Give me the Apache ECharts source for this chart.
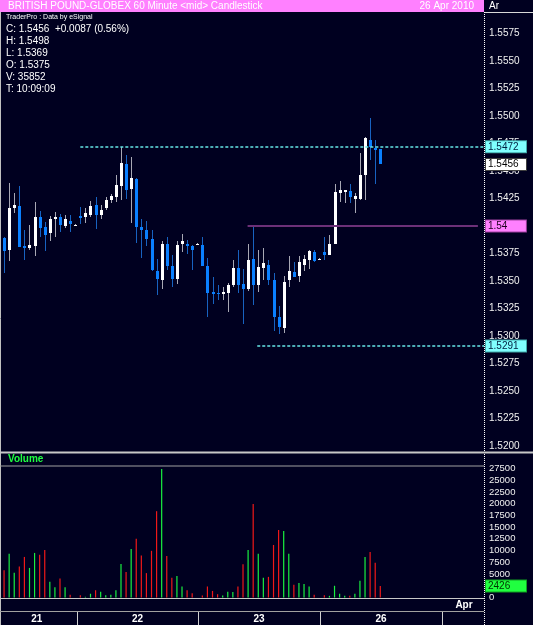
<!DOCTYPE html>
<html>
<head>
<meta charset="utf-8">
<title>BRITISH POUND-GLOBEX 60 Minute</title>
<script src="https://cdn.jsdelivr.net/npm/echarts@6.0.0/dist/echarts.min.js"></script>
<style>
	html, body { margin: 0; padding: 0; background: #000020; }
	#chart { width: 533px; height: 625px; }
</style>
</head>
<body>
<div id="chart"></div>
<script>
// hourly bars, 21 - 26 Apr 2010
var opens  = [1.5389, 1.5378, 1.5416, 1.5418, 1.5382, 1.5380, 1.5382, 1.5408, 1.5399, 1.5394,
	1.5406, 1.5408, 1.5400, 1.5405, 1.5401, 1.5409, 1.5408, 1.5410, 1.5419, 1.5410,
	1.5416, 1.5424, 1.5426, 1.5436, 1.5456, 1.5434, 1.5443, 1.5399, 1.5396, 1.5388,
	1.5359, 1.5351, 1.5384, 1.5364, 1.5352, 1.5384, 1.5384, 1.5382, 1.5384, 1.5383,
	1.5364, 1.5340, 1.5339, 1.5338, 1.5339, 1.5346, 1.5362, 1.5347, 1.5343, 1.5370,
	1.5346, 1.5362, 1.5365, 1.5351, 1.5317, 1.5307, 1.5351, 1.5358, 1.5355, 1.5365,
	1.5369, 1.5376, 1.5370, 1.5376, 1.5374, 1.5384, 1.5430, 1.5431, 1.5432, 1.5425,
	1.5425, 1.5446, 1.5478, 1.5471, 1.5470];
var closes = [1.5377, 1.5416, 1.5419, 1.5381, 1.5380, 1.5383, 1.5408, 1.5398, 1.5392, 1.5406,
	1.5408, 1.5401, 1.5406, 1.5402, 1.5401, 1.5407, 1.5412, 1.5418, 1.5410, 1.5415,
	1.5424, 1.5427, 1.5437, 1.5457, 1.5433, 1.5444, 1.5399, 1.5396, 1.5388, 1.5360,
	1.5352, 1.5384, 1.5364, 1.5352, 1.5383, 1.5386, 1.5382, 1.5378, 1.5384, 1.5364,
	1.5339, 1.5338, 1.5338, 1.5340, 1.5346, 1.5362, 1.5346, 1.5343, 1.5369, 1.5346,
	1.5363, 1.5366, 1.5351, 1.5317, 1.5308, 1.5349, 1.5359, 1.5354, 1.5367, 1.5370,
	1.5377, 1.5368, 1.5370, 1.5374, 1.5384, 1.5431, 1.5433, 1.5433, 1.5426, 1.5427,
	1.5446, 1.5480, 1.5472, 1.5469, 1.5456];
var lows   = [1.5357, 1.5368, 1.5412, 1.5381, 1.5369, 1.5378, 1.5373, 1.5390, 1.5377, 1.5386,
	1.5390, 1.5395, 1.5398, 1.5395, 1.5401, 1.5402, 1.5403, 1.5408, 1.5397, 1.5406,
	1.5415, 1.5421, 1.5422, 1.5424, 1.5425, 1.5403, 1.5385, 1.5371, 1.5382, 1.5359,
	1.5337, 1.5343, 1.5360, 1.5345, 1.5347, 1.5376, 1.5375, 1.5360, 1.5384, 1.5364,
	1.5317, 1.5329, 1.5333, 1.5333, 1.5322, 1.5345, 1.5339, 1.5311, 1.5341, 1.5328,
	1.5340, 1.5351, 1.5346, 1.5305, 1.5302, 1.5303, 1.5345, 1.5354, 1.5349, 1.5359,
	1.5361, 1.5367, 1.5370, 1.5369, 1.5374, 1.5384, 1.5422, 1.5421, 1.5421, 1.5412,
	1.5424, 1.5424, 1.5460, 1.5438, 1.5456];
var highs  = [1.5390, 1.5439, 1.5430, 1.5436, 1.5396, 1.5401, 1.5422, 1.5414, 1.5404, 1.5409,
	1.5413, 1.5411, 1.5410, 1.5410, 1.5402, 1.5417, 1.5416, 1.5423, 1.5426, 1.5419,
	1.5426, 1.5429, 1.5446, 1.5472, 1.5465, 1.5463, 1.5444, 1.5406, 1.5405, 1.5396,
	1.5370, 1.5386, 1.5390, 1.5374, 1.5386, 1.5393, 1.5387, 1.5383, 1.5385, 1.5390,
	1.5371, 1.5354, 1.5346, 1.5345, 1.5348, 1.5369, 1.5378, 1.5361, 1.5384, 1.5400,
	1.5378, 1.5380, 1.5369, 1.5357, 1.5327, 1.5355, 1.5373, 1.5367, 1.5373, 1.5374,
	1.5378, 1.5378, 1.5371, 1.5390, 1.5392, 1.5438, 1.5441, 1.5433, 1.5438, 1.5430,
	1.5466, 1.5481, 1.5498, 1.5478, 1.5470];
var volumes = [5800, 9300, 5300, 6600, 8650, 6300, 9500, 9100, 10150, 3350,
	2200, 4050, 2200, 570, 0, 500, 150, 800, 1550, 1200,
	500, 570, 1550, 7150, 5450, 10350, 12500, 8950, 5200, 9950,
	18400, 27400, 8870, 4200, 4600, 2350, 1550, 900, 0, 430,
	2350, 1400, 700, 430, 1200, 1150, 2350, 7100, 10150, 19950,
	9300, 4200, 4400, 11200, 14400, 14200, 9300, 2700, 3100, 2900,
	2350, 570, 0, 500, 350, 2500, 800, 350, 350, 800,
	3550, 8650, 9700, 7400, 2426];

// drawn levels
var resistance = 1.5472, resistanceFrom = 15;
var pivot = 1.54, pivotFrom = 47.9;
var support = 1.5291, supportFrom = 49.8;

// date strip
var dayLabels = ['21', '22', '23', '26'];
var dayBreaks = [14.35, 38.15, 62.15, 86.15];
var monthLabel = 'Apr';

var infoLines = ['C: 1.5456  +0.0087 (0.56%)', 'H: 1.5498', 'L: 1.5369', 'O: 1.5375', 'V: 35852', 'T: 10:09:09'];

var FONT = "'Liberation Sans', Arial, sans-serif";
var X_MIN = -0.8, X_MAX = 94.4;
var UP_BODY = '#ffffff', UP_WICK = '#a8a8b4', DOWN_BODY = '#0a80ff', DOWN_WICK = '#1862c0';

var candles = [], vols = [];
for (var i = 0; i < opens.length; i++) {
	candles.push([i, opens[i], closes[i], lows[i], highs[i]]);
	vols.push([i, volumes[i]]);
}
var lastClose = closes[closes.length - 1];
var lastVolume = volumes[volumes.length - 1];

var dayLabelPos = [];
for (var d = 0; d < dayLabels.length; d++) {
	var from = d === 0 ? -1.5 : dayBreaks[d - 1];
	dayLabelPos.push({ value: [(from + dayBreaks[d]) / 2, 0], name: dayLabels[d] });
}

function renderCandle(params, api) {
	var idx = api.value(0);
	var o = api.value(1), c = api.value(2), lo = api.value(3), hi = api.value(4);
	var pO = api.coord([idx, o]), pC = api.coord([idx, c]);
	var yL = Math.round(api.coord([idx, lo])[1]), yH = Math.round(api.coord([idx, hi])[1]);
	var cx = Math.round(pO[0]);
	var up = c >= o;
	var top = Math.round(Math.min(pO[1], pC[1])), bot = Math.round(Math.max(pO[1], pC[1]));
	if (bot - top < 1) bot = top + 1;
	return {
		type: 'group',
		children: [
			{ type: 'rect', shape: { x: cx, y: yH, width: 1, height: Math.max(1, yL - yH) }, style: { fill: up ? UP_WICK : DOWN_WICK } },
			{ type: 'rect', shape: { x: cx - 1, y: top, width: 3, height: bot - top }, style: { fill: up ? UP_BODY : DOWN_BODY } }
		]
	};
}

function renderBreak(params, api) {
	var p = api.coord([api.value(0), 0]);
	var x = Math.round(p[0]) + 0.5;
	return { type: 'line', shape: { x1: x, y1: 612, x2: x, y2: 625 }, style: { stroke: '#d0d0d0', lineWidth: 1 } };
}

function renderDayLabel(params, api) {
	var p = api.coord([api.value(0), api.value(1)]);
	return {
		type: 'text', x: p[0], y: 0,
		style: { text: dayLabelPos[params.dataIndex].name, x: 0, y: 619, align: 'center', verticalAlign: 'middle', fill: '#ffffff', font: 'bold 10px ' + FONT }
	};
}

function levelLabel(text, bg, border, fg, dist) {
	return {
		show: true, position: 'end', distance: dist || 2, formatter: text,
		backgroundColor: bg, borderColor: border, borderWidth: 1,
		color: fg, fontFamily: FONT, fontSize: 10, width: 36, height: 10,
		padding: [1, 2, 0, 2], lineHeight: 10
	};
}

// a level box with no visible line, parked on the axis edge
function edgeBox(value, bg, border, fg) {
	return [
		{ coord: [94.3, value], lineStyle: { color: 'rgba(0,0,0,0)', width: 1 }, label: levelLabel(String(value), bg, border, fg) },
		{ coord: [X_MAX, value] }
	];
}

var chart = echarts.init(document.getElementById('chart'), null, { renderer: 'canvas' });

var graphics = [
	// header
	{ type: 'rect', shape: { x: 0, y: 0, width: 484, height: 12 }, style: { fill: '#ff80ff' } },
	{ type: 'text', style: { text: 'BRITISH POUND-GLOBEX 60 Minute <mid> Candlestick', x: 8, y: 6, verticalAlign: 'middle', fill: '#ffffff', font: '10px ' + FONT } },
	{ type: 'text', style: { text: '26 Apr 2010', x: 474, y: 6, align: 'right', verticalAlign: 'middle', fill: '#ffffff', font: '10px ' + FONT } },
	{ type: 'text', style: { text: 'Ar', x: 489, y: 6, verticalAlign: 'middle', fill: '#ffffff', font: '10px ' + FONT } },
	{ type: 'line', shape: { x1: 484, y1: 12.5, x2: 533, y2: 12.5 }, style: { stroke: '#d8d8d8', lineWidth: 1 } },
	{ type: 'text', style: { text: 'TraderPro : Data by eSignal', x: 6, y: 17, verticalAlign: 'middle', fill: '#ffffff', font: '7px ' + FONT } },
	// panel frames
	{ type: 'line', shape: { x1: 0.5, y1: 12, x2: 0.5, y2: 625 }, style: { stroke: '#c0c0c0', lineWidth: 1 } },
	{ type: 'line', shape: { x1: 484.5, y1: 12, x2: 484.5, y2: 625 }, style: { stroke: '#ffffff', lineWidth: 1, lineDash: [1, 1] } },
	{ type: 'line', shape: { x1: 0, y1: 452.5, x2: 533, y2: 452.5 }, style: { stroke: '#c8c8c8', lineWidth: 2 } },
	{ type: 'line', shape: { x1: 0, y1: 466, x2: 484, y2: 466 }, style: { stroke: '#a0a0a0', lineWidth: 1 } },
	{ type: 'line', shape: { x1: 0, y1: 598.5, x2: 484, y2: 598.5 }, style: { stroke: '#c8c8c8', lineWidth: 1 } },
	{ type: 'line', shape: { x1: 0, y1: 611.5, x2: 484, y2: 611.5 }, style: { stroke: '#a0a0a0', lineWidth: 1 } },
	{ type: 'text', style: { text: 'Volume', x: 8, y: 459.5, verticalAlign: 'middle', fill: '#20ff40', font: 'bold 10px ' + FONT } },
	{ type: 'text', style: { text: monthLabel, x: 464, y: 605, align: 'center', verticalAlign: 'middle', fill: '#ffffff', font: 'bold 10px ' + FONT } }
];
for (var k = 0; k < infoLines.length; k++) {
	graphics.push({ type: 'text', style: { text: infoLines[k], x: 6, y: 29 + k * 12, verticalAlign: 'middle', fill: '#ffffff', font: '10px ' + FONT } });
}

var hiddenX = function(gridIndex) {
	return { type: 'value', gridIndex: gridIndex, min: X_MIN, max: X_MAX, show: false };
};

chart.setOption({
	backgroundColor: '#000020',
	animation: false,
	graphic: graphics,
	grid: [
		{ left: 0, top: 6, width: 484, height: 440 },
		{ left: 0, top: 468.5, width: 484, height: 129 },
		{ left: 0, top: 599, width: 484, height: 26 }
	],
	xAxis: [hiddenX(0), hiddenX(1), hiddenX(2)],
	yAxis: [
		{
			type: 'value', gridIndex: 0, position: 'right', min: 1.52, max: 1.56, interval: 0.0025,
			axisLine: { show: false }, axisTick: { show: false }, splitLine: { show: false },
			axisLabel: { margin: 5, showMaxLabel: false, color: '#f0f0f0', fontFamily: FONT, fontSize: 10, formatter: function(v) { return v.toFixed(4); } }
		},
		{
			type: 'value', gridIndex: 1, position: 'right', min: 0, max: 27500, interval: 2500,
			axisLine: { show: false }, axisTick: { show: false }, splitLine: { show: false },
			axisLabel: { margin: 5, color: '#f0f0f0', fontFamily: FONT, fontSize: 9.5, formatter: function(v) { return String(v); } }
		},
		{ type: 'value', gridIndex: 2, min: 0, max: 2, show: false }
	],
	series: [
		{
			name: 'price', type: 'custom', xAxisIndex: 0, yAxisIndex: 0,
			data: candles, encode: { x: 0, y: [1, 2, 3, 4] },
			renderItem: renderCandle,
			markLine: {
				symbol: 'none', silent: true,
				emphasis: { disabled: true },
				data: [
					[{ coord: [resistanceFrom, resistance], lineStyle: { color: '#66e6e6', width: 1.5, type: [3, 2] }, label: levelLabel(String(resistance), '#80ffff', '#40a8a8', '#002040') }, { coord: [X_MAX, resistance] }],
					[{ coord: [pivotFrom, pivot], lineStyle: { color: '#6c3078', width: 2, type: 'solid' }, label: levelLabel(String(pivot), '#ff80ff', '#a040a0', '#200020', 8) }, { coord: [93.2, pivot] }],
					[{ coord: [supportFrom, support], lineStyle: { color: '#66e6e6', width: 1.5, type: [3, 2] }, label: levelLabel(String(support), '#80ffff', '#40a8a8', '#002040') }, { coord: [X_MAX, support] }],
					edgeBox(lastClose, '#ffffff', '#404040', '#000000')
				]
			}
		},
		{
			name: 'volume', type: 'bar', xAxisIndex: 1, yAxisIndex: 1,
			data: vols, barWidth: 1.2, clip: false,
			itemStyle: {
				color: function(p) { return closes[p.dataIndex] >= opens[p.dataIndex] ? '#18f040' : '#f01818'; }
			},
			markLine: {
				symbol: 'none', silent: true,
				data: [edgeBox(lastVolume, '#20ff40', '#10a020', '#003000')]
			}
		},
		{
			name: 'dayBreaks', type: 'custom', xAxisIndex: 2, yAxisIndex: 2,
			data: dayBreaks.map(function(b) { return [b, 0]; }),
			renderItem: renderBreak
		},
		{
			name: 'days', type: 'custom', xAxisIndex: 2, yAxisIndex: 2,
			data: dayLabelPos,
			renderItem: renderDayLabel
		}
	]
});
</script>
</body>
</html>
